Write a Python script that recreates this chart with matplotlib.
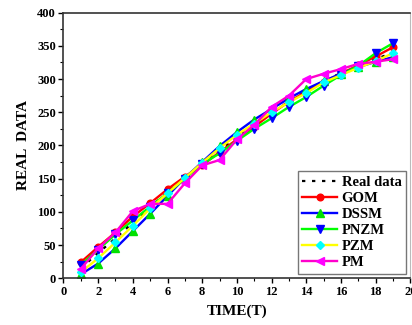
import numpy as np
import matplotlib
matplotlib.use("Agg")
import matplotlib.pyplot as plt
from matplotlib.ticker import MultipleLocator

plt.rcParams['font.family'] = ['Liberation Serif', 'DejaVu Serif']
plt.rcParams['font.weight'] = 'bold'

# time steps
t = np.arange(1, 20)

# series values
real = [15, 38, 60, 84, 107, 129, 150, 171, 192, 212, 231, 249, 266, 282, 297, 309, 319, 330, 340]
gom = [24, 47, 69, 93, 113, 134, 153, 170, 190, 209, 228, 248, 266, 281, 296, 308, 321, 334, 348]
dssm = [6, 22, 45, 71, 97, 124, 151, 175, 199, 220, 239, 255, 271, 285, 297, 308, 318, 326, 333]
pnzm = [20, 43, 66, 87, 108, 128, 150, 172, 188, 207, 225, 241, 258, 273, 290, 306, 320, 339, 354]
pzm = [9, 30, 54, 79, 105, 128, 151, 174, 196, 216, 233, 250, 265, 279, 295, 306, 317, 327, 339]
pm = [14, 45, 69, 101, 112, 112, 143, 170, 178, 209, 231, 258, 275, 300, 308, 315, 323, 326, 330]

fig = plt.figure(figsize=(4.12, 3.25), dpi=100)
ax = fig.add_axes([0.154, 0.144, 0.842, 0.817])

lw = 1.7
ms = 4.8
ax.plot(t, real, color='black', linestyle=(0, (1.5, 3)), linewidth=1.6, label='Real data')
ax.plot(t, gom, color='#ff0000', marker='o', markersize=ms, markerfacecolor='#ff0000',
        markeredgecolor='#ff0000', linewidth=lw, label='GOM')
ax.plot(t, dssm, color='#0000ff', marker='^', markersize=ms + 0.5, markerfacecolor='#00e000',
        markeredgecolor='#00e000', linewidth=lw, label='DSSM')
ax.plot(t, pnzm, color='#00ff00', marker='v', markersize=ms + 0.5, markerfacecolor='#0000ff',
        markeredgecolor='#0000ff', linewidth=lw, label='PNZM')
ax.plot(t, pzm, color='#ffff00', marker='D', markersize=ms - 0.5, markerfacecolor='#00ffff',
        markeredgecolor='#00ffff', linewidth=lw, label='PZM')
ax.plot(t, pm, color='#ff00cc', marker='<', markersize=ms + 0.5, markerfacecolor='#ff00ff',
        markeredgecolor='#ff00ff', linewidth=lw, label='PM')

ax.set_xlim(0, 20)
ax.set_ylim(0, 400)
ax.xaxis.set_major_locator(MultipleLocator(2))
ax.xaxis.set_minor_locator(MultipleLocator(1))
ax.yaxis.set_major_locator(MultipleLocator(50))
ax.yaxis.set_minor_locator(MultipleLocator(25))
ax.tick_params(which='major', direction='out', length=3.5, width=1, labelsize=9, pad=2)
ax.tick_params(which='minor', direction='out', length=2, width=0.8)
for lab in ax.get_xticklabels() + ax.get_yticklabels():
    lab.set_fontweight('bold')

for s in ['left', 'bottom', 'top']:
    ax.spines[s].set_linewidth(1.2)
    ax.spines[s].set_color('#333333')
ax.spines['right'].set_linewidth(0.8)
ax.spines['right'].set_color('#bbbbbb')

ax.set_xlabel('TIME(T)', fontsize=11, fontweight='bold', labelpad=5)
ax.set_ylabel('REAL  DATA', fontsize=11, fontweight='bold', labelpad=5)

leg = ax.legend(loc='lower right', prop={'weight': 'bold', 'size': 10.5},
                fancybox=False, framealpha=1, edgecolor='#777777', handlelength=2.4,
                handletextpad=0.3, labelspacing=0.2, borderpad=0.3, borderaxespad=0.3)
leg.get_frame().set_linewidth(1.0)

fig.savefig('out.png', dpi=100)
